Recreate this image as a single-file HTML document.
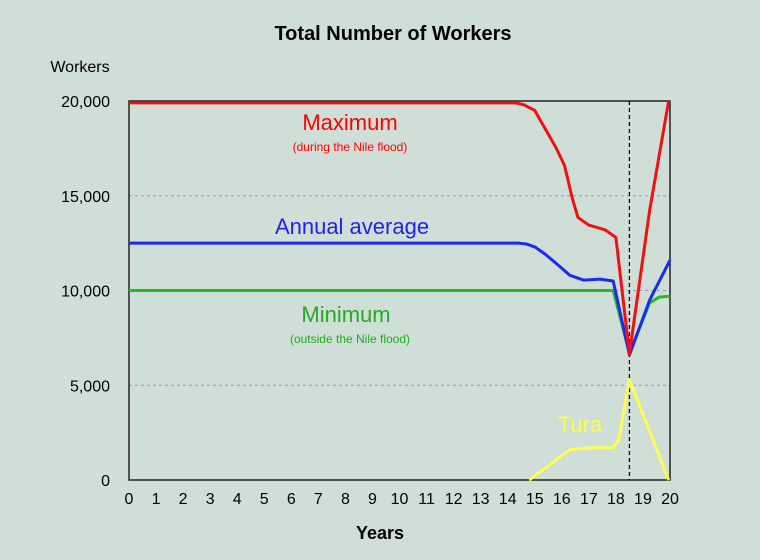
<!DOCTYPE html>
<html><head><meta charset="utf-8"><style>
body{margin:0;background:#cfded6;}
svg{display:block;font-family:"Liberation Sans",sans-serif;}
</style></head><body>
<svg id="c" width="760" height="560">
<rect width="760" height="560" fill="#cfded6"/>
<text x="393" y="40" text-anchor="middle" font-size="20" font-weight="bold">Total Number of Workers</text>
<text x="80" y="72" text-anchor="middle" font-size="16">Workers</text>
<text x="380" y="539" text-anchor="middle" font-size="18" font-weight="bold">Years</text>
<g id="grid"></g><g id="series"></g><g id="ticks"></g>
<text x="350" y="130" text-anchor="middle" font-size="22" fill="#ff0000">Maximum</text>
<text x="350" y="151" text-anchor="middle" font-size="12" fill="#ff0000">(during the Nile flood)</text>
<text x="352" y="234" text-anchor="middle" font-size="22" fill="#2222ee">Annual average</text>
<text x="346" y="322" text-anchor="middle" font-size="22" fill="#22aa22">Minimum</text>
<text x="350" y="343" text-anchor="middle" font-size="12" fill="#22aa22">(outside the Nile flood)</text>
<text x="580" y="432" text-anchor="middle" font-size="22" fill="#ffff44">Tura</text>
</svg>
<script>
const xTicks=[0,1,2,3,4,5,6,7,8,9,10,11,12,13,14,15,16,17,18,19,20];
const yTicks=[0,5000,10000,15000,20000];
const maxX=[0,14.3,14.6,15.0,15.4,15.8,16.1,16.4,16.6,17.0,17.6,18.0,18.5,19.25,19.95];
const maxY=[19900,19900,19800,19500,18500,17500,16600,14800,13850,13450,13200,12800,6650,14250,20000];
const avgX=[0,14.4,14.7,15.0,15.4,15.9,16.3,16.8,17.4,17.9,18.5,19.25,20];
const avgY=[12500,12500,12450,12300,11900,11300,10800,10550,10600,10500,6600,9500,11600];
const minX=[0,17.9,18.5,19.25,19.6,20];
const minY=[10000,10000,6700,9350,9650,9700];
const turaX=[14.8,16.3,17.1,17.9,18.1,18.5,19.95];
const turaY=[0,1600,1700,1700,2100,5300,0];
const X0=129,X1=670,Y0=480,Y1=101;
const sx=v=>X0+(X1-X0)*v/20, sy=v=>Y0-(Y0-Y1)*v/20000;
const NS="http://www.w3.org/2000/svg";
function mk(t,a,p){const e=document.createElementNS(NS,t);for(const k in a)e.setAttribute(k,a[k]);p.appendChild(e);return e;}
const g=document.getElementById('grid'),s=document.getElementById('series'),tk=document.getElementById('ticks');
yTicks.forEach(v=>{
 if(v>0&&v<20000){const l=mk('line',{x1:X0,x2:X1,y1:sy(v),y2:sy(v),stroke:'#999',"stroke-dasharray":"3,3"},g);
 
 }
 const t=mk('text',{x:110,y:sy(v)+6,"text-anchor":"end","font-size":16},tk);t.textContent=v.toLocaleString('en-US');
 
 
});
xTicks.forEach(v=>{const t=mk('text',{x:sx(v),y:504,"text-anchor":"middle","font-size":16},tk);t.textContent=v;
 
 });
const fr=mk('rect',{x:X0,y:Y1,width:X1-X0,height:Y0-Y1,fill:'none',stroke:'#222','stroke-width':1.5},g);


const dl=mk('line',{x1:sx(18.5),x2:sx(18.5),y1:Y1,y2:Y0,stroke:'#000','stroke-dasharray':'4,3','stroke-width':1.3},g);


function line(xs,ys,c,n){const p=mk('polyline',{points:xs.map((x,i)=>sx(x)+','+sy(ys[i])).join(' '),fill:'none',stroke:c,'stroke-width':3,'stroke-linejoin':'round'},s);
 
 }
line(turaX,turaY,'#ffff55','tura-line');
line(minX,minY,'#22bb22','minimum-line');
line(avgX,avgY,'#1a2aee','annual-average-line');
line(maxX,maxY,'#ee1111','maximum-line');
</script>
</body></html>
